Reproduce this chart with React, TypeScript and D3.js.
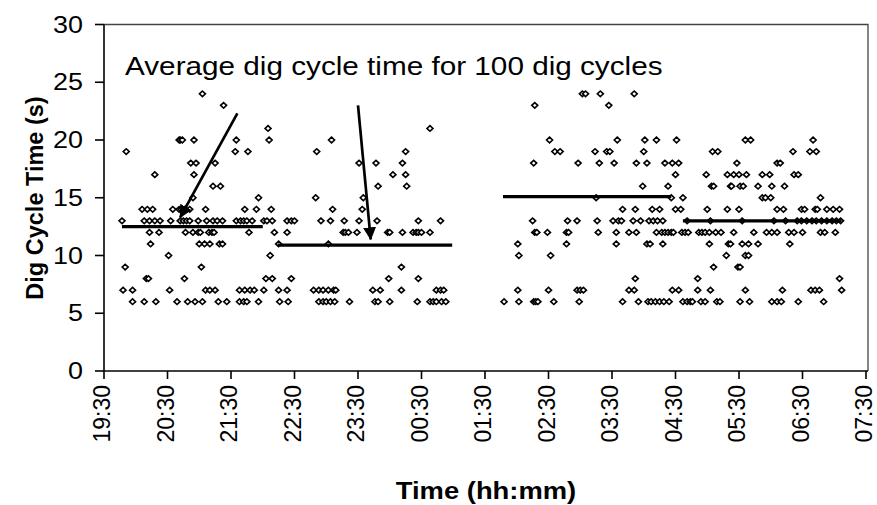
import React from "react";
import * as d3 from "d3";

// Time axis: minutes after 19:30, ticks every hour
const xTickLabels = ["19:30","20:30","21:30","22:30","23:30","00:30","01:30","02:30","03:30","04:30","05:30","06:30","07:30"];
const yTicks = [0, 5, 10, 15, 20, 25, 30];

// Dig cycle times (s) -> minutes after 19:30 at which each occurred
const t24 = [93, 452, 455, 469, 501];
const t23 = [113, 407, 477];
const t21 = [155, 308];
const t20 = [71, 72, 74, 85, 125, 156, 215, 421, 485, 511, 522, 541, 606, 611, 670];
const t19 = [21, 124, 136, 201, 285, 426, 431, 464, 475, 478, 510, 575, 580, 651, 667, 673];
const t18 = [82, 87, 105, 241, 257, 282, 406, 448, 468, 482, 503, 513, 530, 537, 543, 598, 636, 639];
const t17 = [48, 85, 273, 285, 540, 569, 589, 595, 600, 607, 622, 629, 652, 656];
const t16 = [103, 110, 259, 286, 509, 533, 574, 576, 592, 593, 601, 604, 618, 631, 643];
const t15 = [84, 146, 200, 245, 465, 536, 547, 622, 625, 630, 677];
const t14 = [36, 41, 46, 65, 71, 73, 76, 77, 81, 96, 133, 144, 158, 216, 244, 490, 502, 518, 525, 540, 545, 570, 589, 600, 636, 642, 659, 662, 672, 674, 683, 689, 695];
const t13 = [17, 38, 43, 48, 53, 63, 72, 75, 78, 81, 89, 97, 103, 107, 112, 125, 129, 132, 135, 140, 151, 154, 159, 173, 177, 180, 205, 214, 227, 241, 258, 297, 318, 405, 438, 447, 466, 481, 486, 489, 500, 507, 515, 519, 523, 528, 551, 573, 603, 633, 644, 655, 659, 664, 669, 673, 678, 683, 688, 692, 696];
const t12 = [43, 52, 77, 84, 89, 91, 99, 102, 104, 137, 161, 173, 226, 228, 231, 239, 268, 270, 282, 292, 295, 297, 300, 308, 407, 409, 419, 437, 439, 467, 484, 496, 503, 522, 527, 530, 533, 536, 538, 546, 549, 552, 562, 565, 568, 572, 578, 583, 595, 614, 626, 631, 636, 647, 652, 660, 677, 681, 691];
const t11 = [44, 90, 95, 100, 109, 112, 165, 212, 391, 437, 484, 513, 516, 528, 572, 590, 592, 603, 609, 618, 648];
const t10 = [61, 157, 392, 422, 588, 606, 609];
const t9 = [20, 92, 281, 576, 599, 601];
const t8 = [40, 42, 76, 153, 159, 177, 269, 297, 502, 561, 695];
const t7 = [18, 27, 62, 96, 100, 105, 128, 133, 138, 142, 151, 165, 173, 198, 203, 207, 212, 217, 219, 254, 261, 281, 314, 318, 321, 391, 420, 447, 450, 453, 496, 501, 537, 543, 561, 573, 606, 641, 668, 672, 676, 697];
const t6 = [27, 38, 49, 69, 79, 86, 93, 108, 116, 128, 132, 135, 146, 166, 174, 203, 207, 210, 214, 218, 232, 256, 259, 270, 296, 308, 311, 314, 319, 323, 378, 392, 406, 408, 410, 425, 449, 490, 505, 514, 517, 521, 525, 529, 534, 547, 551, 554, 556, 564, 568, 579, 582, 601, 610, 631, 636, 640, 656, 680];

const levelValues = [24, 23, 21, 20, 19, 18, 17, 16, 15, 14, 13, 12, 11, 10, 9, 8, 7, 6];
const levelTimes = [t24, t23, t21, t20, t19, t18, t17, t16, t15, t14, t13, t12, t11, t10, t9, t8, t7, t6];

// Averages over 100 dig cycles
const avgStart = [17, 164, 377, 547];
const avgEnd = [150, 329, 536, 697];
const avgValue = [12.5, 10.9, 15.1, 13.0];

// Annotation arrows (minutes, seconds)
const arrowFromT = [126, 240];
const arrowFromV = [22.3, 23.0];
const arrowToT = [72, 252];
const arrowToV = [13.3, 11.4];

const annotation = "Average dig cycle time for 100 dig cycles";

const W = 877, H = 505;
const L = 104, R = 866, T = 24.5, B = 371;
const FONT = "'Liberation Sans', Arial, Helvetica, sans-serif";

export default function App() {
  const x = d3.scaleLinear().domain([0, 720]).range([L, R]);
  const y = d3.scaleLinear().domain([0, 30]).range([B, T]);

  const points: { t: number; v: number }[] = [];
  levelValues.forEach((v, i) => levelTimes[i].forEach((t) => points.push({ t, v })));

  const diamond = (px: number, py: number) =>
    `M${px},${py - 2.8}L${px + 3},${py}L${px},${py + 2.8}L${px - 3},${py}Z`;

  const line = d3.line<[number, number]>().x((d) => x(d[0])).y((d) => y(d[1]));

  return (
    <svg width={W} height={H} style={{ position: "absolute", left: 0, top: 0, background: "#fff" }} fontFamily={FONT}>
      <defs>
        <marker id="ah" markerUnits="userSpaceOnUse" markerWidth={14} markerHeight={14} refX={12} refY={6.5} orient="auto">
          <path d="M0,0L13,6.5L0,13Z" fill="#000" />
        </marker>
      </defs>
      <rect x={0} y={0} width={W} height={H} fill="#fff" />
      {/* plot frame */}
      <path d={`M${L},${T}H${R + 2}V${B}`} fill="none" stroke="#444" strokeWidth={1.3} />

      {/* points */}
      <g fill="#fff" stroke="#000" strokeWidth={1.6}>
        {points.map((p, i) => (
          <path key={i} d={diamond(x(p.t), y(p.v))} />
        ))}
      </g>

      {/* averages */}
      {avgValue.map((v, i) => (
        <path key={i} d={line([[avgStart[i], v], [avgEnd[i], v]]) || ""} stroke="#000" strokeWidth={3.2} fill="none" />
      ))}

      {/* arrows */}
      {arrowFromT.map((t, i) => (
        <path key={i} d={line([[t, arrowFromV[i]], [arrowToT[i], arrowToV[i]]]) || ""} stroke="#000" strokeWidth={2.7} fill="none" markerEnd="url(#ah)" />
      ))}

      {/* axes */}
      <line x1={L} x2={R + 2} y1={B} y2={B} stroke="#000" strokeWidth={1.6} />
      <line x1={L} x2={L} y1={T} y2={B} stroke="#000" strokeWidth={1.6} />
      {yTicks.map((v) => (
        <g key={v}>
          <line x1={L - 9} x2={L} y1={y(v)} y2={y(v)} stroke="#000" strokeWidth={1.6} />
          <text transform={`translate(${L - 21},${y(v) + 8}) scale(1.17,1)`} textAnchor="end" fontSize={23} fill="#000">{v}</text>
        </g>
      ))}
      {xTickLabels.map((lab, i) => {
        const px = x(i * 60);
        return (
          <g key={lab}>
            <line x1={px} x2={px} y1={B} y2={B + 8} stroke="#000" strokeWidth={1.6} />
            <text transform={`translate(${px + 6},${B + 14}) rotate(-90)`} textAnchor="end" fontSize={23} fill="#000">{lab}</text>
          </g>
        );
      })}

      {/* titles */}
      <text transform={`translate(486,499) scale(1.165,1)`} textAnchor="middle" fontSize={23.5} fontWeight="bold" fill="#000">Time (hh:mm)</text>
      <text transform={`translate(43,198) rotate(-90)`} textAnchor="middle" fontSize={23.5} fontWeight="bold" fill="#000">Dig Cycle Time (s)</text>

      {/* annotation */}
      <text transform={`translate(125,75) scale(1.165,1)`} fontSize={25.5} fill="#000">{annotation}</text>
    </svg>
  );
}
